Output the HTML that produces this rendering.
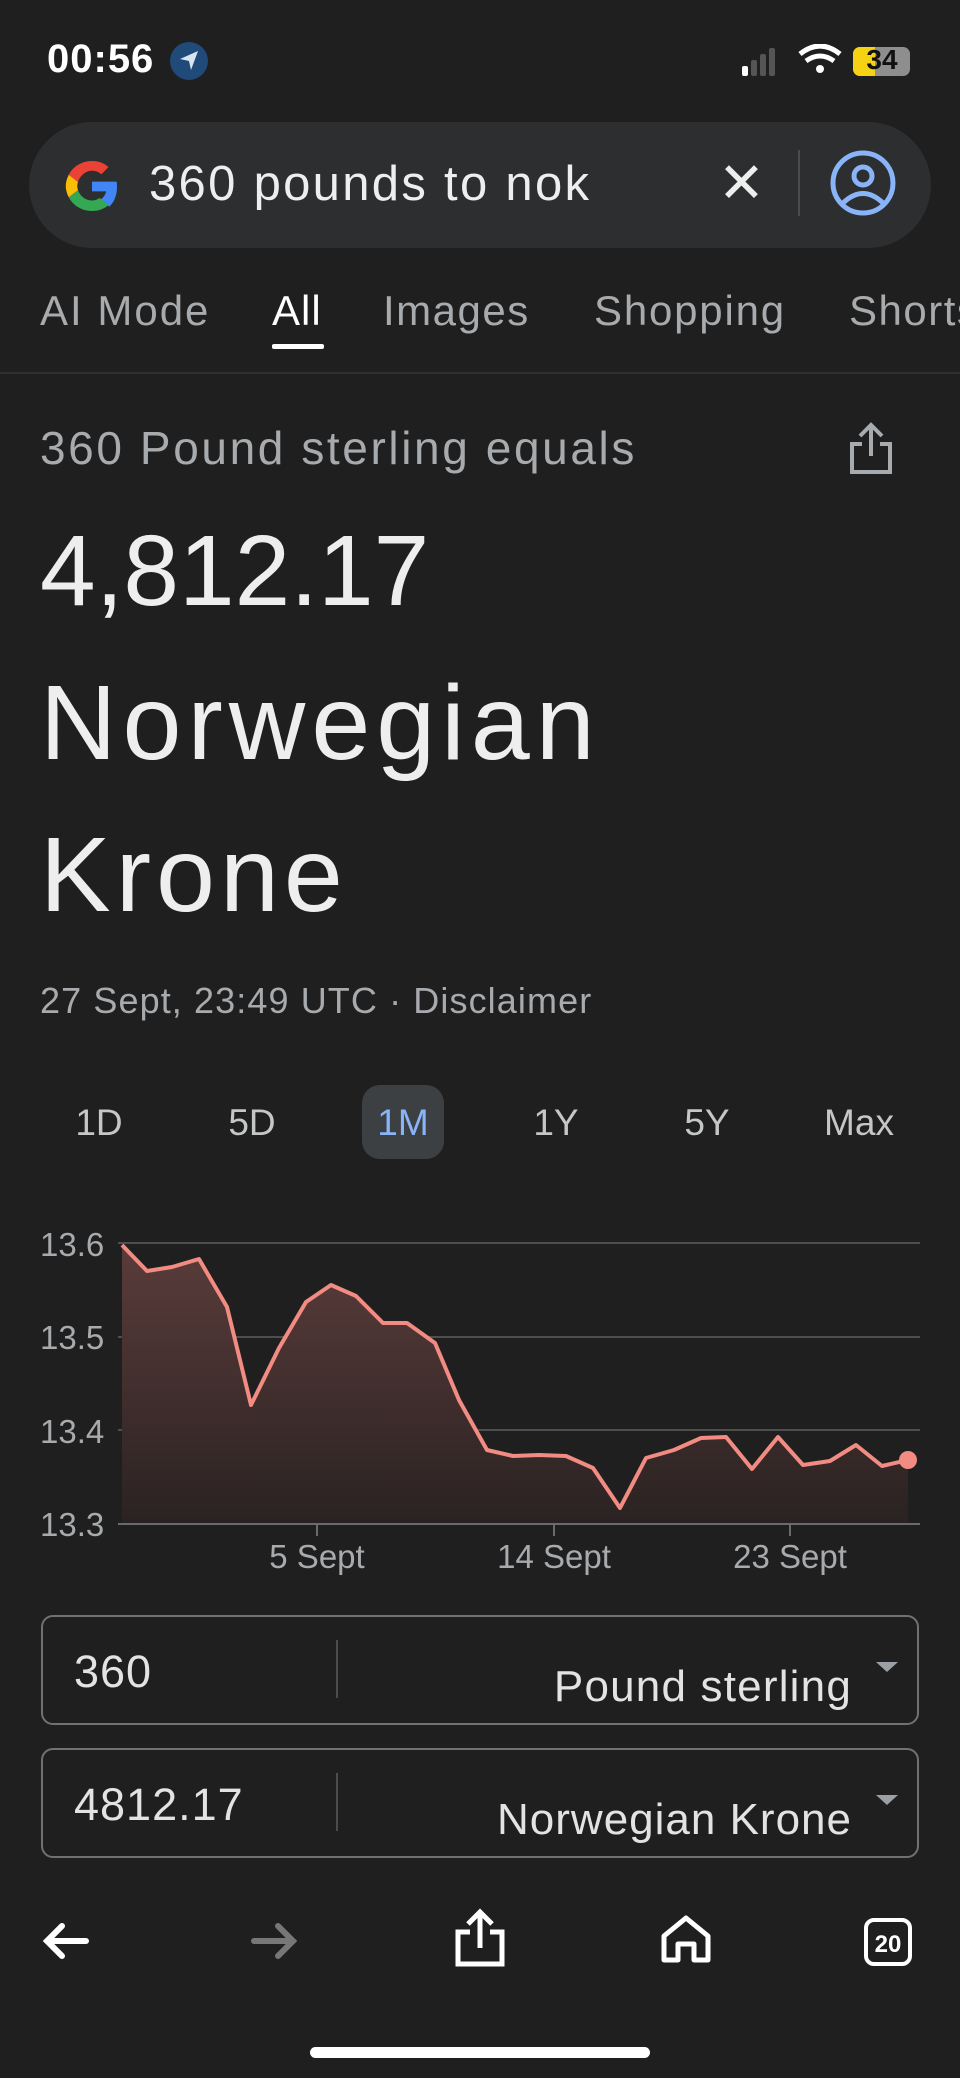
<!DOCTYPE html>
<html><head><meta charset="utf-8">
<style>
*{margin:0;padding:0;box-sizing:border-box}
body{width:960px;height:2078px;background:#1f1f1f;font-family:"Liberation Sans",sans-serif;color:#e3e3e3;position:relative;overflow:hidden}
.a{position:absolute;white-space:nowrap}
</style></head><body>
<div class="a" style="left:47px;top:37px;font-size:40px;font-weight:bold;color:#fff;letter-spacing:1px">00:56</div>
<div class="a" style="left:170px;top:42px;width:38px;height:38px;border-radius:50%;background:#1f4a7a"></div>
<svg class="a" style="left:176px;top:48px" width="26" height="26" viewBox="0 0 26 26"><path d="M22 3 L4 11 L13 13 L15 22 Z" fill="#d8e4f0"/></svg>
<svg class="a" style="left:740px;top:44px" width="130" height="34">
<rect x="2" y="22" width="6" height="10" rx="2" fill="#fff"/><rect x="11" y="16" width="6" height="16" rx="2" fill="#555"/><rect x="20" y="10" width="6" height="22" rx="2" fill="#555"/><rect x="29" y="4" width="6" height="28" rx="2" fill="#555"/>
<path d="M60 10 Q80 -6 100 10" stroke="#fff" stroke-width="5" fill="none"/><path d="M66 17 Q80 7 94 17" stroke="#fff" stroke-width="5" fill="none"/><circle cx="80" cy="25" r="4" fill="#fff"/>
</svg>
<div class="a" style="left:853px;top:47px;width:57px;height:29px;border-radius:7px;background:#8e8e8e;overflow:hidden"><div style="width:22px;height:29px;background:#f5d214"></div></div>
<div class="a" style="left:856px;top:44px;width:52px;text-align:center;font-size:28px;font-weight:bold;color:#111">34</div>

<div class="a" style="left:29px;top:122px;width:902px;height:126px;border-radius:63px;background:#2c2e30"></div>
<svg class="a" style="left:62px;top:156px" width="60" height="60" viewBox="0 0 48 48">
<path d="M44 24.5c0-1.6-.1-2.8-.4-4H24v7.8h11.3c-.5 2.7-2.1 5-4.6 6.6l7.2 5.6C42.1 36.5 44 31 44 24.5z" fill="#4285f4"/>
<path d="M24 44c5.4 0 10-1.8 13.3-4.8l-7.2-5.6c-1.8 1.2-4.1 2-6.1 2-5.2 0-9.6-3.5-11.2-8.3l-7.4 5.7C8.7 39.5 15.8 44 24 44z" fill="#34a853"/>
<path d="M12.8 27.3c-.4-1.2-.6-2.5-.6-3.3s.2-2.2.6-3.3L5.4 15C3.9 18 3 21 3 24s.9 6 2.4 9z" fill="#fbbc05"/>
<path d="M24 11.8c3 0 5.5 1 7.4 2.9l5.8-5.8C33.9 5.8 29.4 4 24 4 15.8 4 8.7 8.5 5.4 15l7.4 5.7c1.6-4.8 6-8.9 11.2-8.9z" fill="#ea4335"/>
</svg>
<div class="a" style="left:149px;top:156px;font-size:49px;color:#eee;letter-spacing:2.3px">360 pounds to nok</div>
<div class="a" style="left:718px;top:150px;font-size:56px;color:#eee">✕</div>
<div class="a" style="left:798px;top:150px;width:2px;height:66px;background:#4a4c4e"></div>
<svg class="a" style="left:828px;top:148px" width="70" height="70"><circle cx="35" cy="35" r="30" stroke="#8ab4f8" stroke-width="5" fill="none"/><circle cx="35" cy="28" r="9" stroke="#8ab4f8" stroke-width="5" fill="none"/><path d="M15 55 Q35 36 55 55" stroke="#8ab4f8" stroke-width="5" fill="none"/></svg>

<div class="a" style="left:40px;top:287px;font-size:42px;color:#a8abae;letter-spacing:2px">AI Mode</div>
<div class="a" style="left:272px;top:287px;font-size:42px;color:#fff;letter-spacing:1px">All</div>
<div class="a" style="left:272px;top:344px;width:52px;height:5px;background:#fff;border-radius:2px"></div>
<div class="a" style="left:383px;top:287px;font-size:42px;color:#a8abae;letter-spacing:1.5px">Images</div>
<div class="a" style="left:594px;top:287px;font-size:42px;color:#a8abae;letter-spacing:1.8px">Shopping</div>
<div class="a" style="left:849px;top:287px;font-size:42px;color:#a8abae;letter-spacing:1.5px">Shorts</div>
<div class="a" style="left:0;top:372px;width:960px;height:2px;background:#2d2f31"></div>

<div class="a" style="left:40px;top:421px;font-size:46px;color:#a8abae;letter-spacing:2.6px">360 Pound sterling equals</div>
<svg class="a" style="left:848px;top:422px" width="46" height="54"><path d="M23 4 V34 M12 14 L23 3 L34 14" stroke="#a8abae" stroke-width="4" fill="none"/><path d="M14 22 H4 V50 H42 V22 H32" stroke="#a8abae" stroke-width="4" fill="none"/></svg>
<div class="a" style="left:40px;top:510px;font-size:100px;color:#eee;line-height:122px">4,812.17</div>
<div class="a" style="left:40px;top:662px;font-size:106px;color:#eee;line-height:122px;letter-spacing:6px">Norwegian</div>
<div class="a" style="left:40px;top:814px;font-size:106px;color:#eee;line-height:122px;letter-spacing:5px">Krone</div>
<div class="a" style="left:40px;top:980px;font-size:36px;color:#a8abae;letter-spacing:1.1px">27 Sept, 23:49 UTC · Disclaimer</div>

<div class="a" style="left:362px;top:1085px;width:82px;height:74px;border-radius:18px;background:#3c4043"></div>
<div class="a" style="left:49px;top:1102px;width:100px;text-align:center;font-size:37px;color:#c4c7c5">1D</div>
<div class="a" style="left:202px;top:1102px;width:100px;text-align:center;font-size:37px;color:#c4c7c5">5D</div>
<div class="a" style="left:353px;top:1102px;width:100px;text-align:center;font-size:37px;color:#8ab4f8">1M</div>
<div class="a" style="left:506px;top:1102px;width:100px;text-align:center;font-size:37px;color:#c4c7c5">1Y</div>
<div class="a" style="left:657px;top:1102px;width:100px;text-align:center;font-size:37px;color:#c4c7c5">5Y</div>
<div class="a" style="left:809px;top:1102px;width:100px;text-align:center;font-size:37px;color:#c4c7c5">Max</div>

<svg class="a" style="left:0;top:0" width="960" height="2078">
<defs><linearGradient id="g" x1="0" y1="0" x2="0" y2="1"><stop offset="0" stop-color="#5a3c3a"/><stop offset="1" stop-color="#2a2222"/></linearGradient></defs>
<g stroke="#4e4e4e" stroke-width="2"><line x1="118" y1="1243" x2="920" y2="1243"/><line x1="118" y1="1337" x2="920" y2="1337"/><line x1="118" y1="1430" x2="920" y2="1430"/></g>
<polygon fill="url(#g)" points="122,1524 122,1245 147,1271 172,1267 199,1259 227,1307 251,1405 279,1348 306,1302 331,1285 356,1296 383,1323 407,1323 435,1343 459,1400 487,1450 513,1456 539,1455 566,1456 593,1468 620,1508 646,1458 674,1450 701,1438 726,1437 752,1469 778,1437 803,1465 830,1461 856,1445 882,1466 908,1460 908,1524"/>
<line x1="118" y1="1524" x2="920" y2="1524" stroke="#6a6a6a" stroke-width="2"/>
<g stroke="#6a6a6a" stroke-width="2"><line x1="317" y1="1524" x2="317" y2="1536"/><line x1="554" y1="1524" x2="554" y2="1536"/><line x1="790" y1="1524" x2="790" y2="1536"/></g>
<polyline fill="none" stroke="#f28b82" stroke-width="4" stroke-linejoin="round" points="122,1245 147,1271 172,1267 199,1259 227,1307 251,1405 279,1348 306,1302 331,1285 356,1296 383,1323 407,1323 435,1343 459,1400 487,1450 513,1456 539,1455 566,1456 593,1468 620,1508 646,1458 674,1450 701,1438 726,1437 752,1469 778,1437 803,1465 830,1461 856,1445 882,1466 908,1460"/>
<circle cx="908" cy="1460" r="9" fill="#f28b82"/>
<g font-family="Liberation Sans" font-size="33" fill="#a8abae">
<text x="40" y="1256">13.6</text><text x="40" y="1349">13.5</text><text x="40" y="1443">13.4</text><text x="40" y="1536">13.3</text>
<text x="317" y="1568" text-anchor="middle">5 Sept</text><text x="554" y="1568" text-anchor="middle">14 Sept</text><text x="790" y="1568" text-anchor="middle">23 Sept</text>
</g>
</svg>

<div class="a" style="left:41px;top:1615px;width:878px;height:110px;border:2px solid #6f7275;border-radius:12px"></div>
<div class="a" style="left:336px;top:1640px;width:2px;height:58px;background:#4a4c4e"></div>
<div class="a" style="left:74px;top:1646px;font-size:45px;color:#e3e3e3;letter-spacing:1px">360</div>
<div class="a" style="right:108px;top:1662px;font-size:44px;color:#e3e3e3;letter-spacing:1.2px">Pound sterling</div>
<div class="a" style="left:876px;top:1662px;width:0;height:0;border-left:11px solid transparent;border-right:11px solid transparent;border-top:10px solid #9aa0a6"></div>

<div class="a" style="left:41px;top:1748px;width:878px;height:110px;border:2px solid #6f7275;border-radius:12px"></div>
<div class="a" style="left:336px;top:1773px;width:2px;height:58px;background:#4a4c4e"></div>
<div class="a" style="left:74px;top:1779px;font-size:45px;color:#e3e3e3;letter-spacing:1px">4812.17</div>
<div class="a" style="right:108px;top:1795px;font-size:44px;color:#e3e3e3;letter-spacing:1px">Norwegian Krone</div>
<div class="a" style="left:876px;top:1795px;width:0;height:0;border-left:11px solid transparent;border-right:11px solid transparent;border-top:10px solid #9aa0a6"></div>

<svg class="a" style="left:0;top:1900px" width="960" height="90">
<path d="M48 41 H86 M62 26 L47 41 L62 56" stroke="#fff" stroke-width="6" fill="none" stroke-linecap="round"/>
<path d="M254 41 H292 M278 26 L293 41 L278 56" stroke="#777" stroke-width="6" fill="none" stroke-linecap="round"/>
<path d="M480 12 V48 M468 24 L480 12 L492 24" stroke="#fff" stroke-width="5" fill="none"/><path d="M470 32 H458 V64 H502 V32 H490" stroke="#fff" stroke-width="5" fill="none"/>
<path d="M664 60 V36 L686 18 L708 36 V60 H694 V44 H678 V60 Z" stroke="#fff" stroke-width="5" fill="none" stroke-linejoin="round"/>
<rect x="866" y="20" width="44" height="44" rx="8" stroke="#fff" stroke-width="4" fill="none"/>
<text x="888" y="52" font-family="Liberation Sans" font-size="24" font-weight="bold" fill="#fff" text-anchor="middle">20</text>
</svg>
<div class="a" style="left:310px;top:2047px;width:340px;height:11px;border-radius:6px;background:#fff"></div>
</body></html>
